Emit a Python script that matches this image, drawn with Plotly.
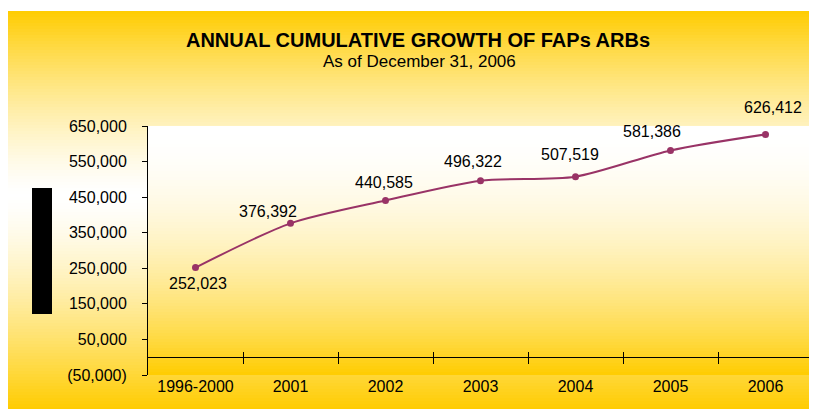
import plotly.graph_objects as go

# data
years = ['1996-2000', '2001', '2002', '2003', '2004', '2005', '2006']
arbs = [252023, 376392, 440585, 496322, 507519, 581386, 626412]
y_ticks = [-50000, 50000, 150000, 250000, 350000, 450000, 550000, 650000]

# the page body has an 8px margin, so the figure is laid out 8px up/left
OFF = 8
W, H = 817 - OFF, 409 - OFF
# plot area on screen: x 148..813, y 126..375
L, R, T, B = 148 - OFF, 817 - 813, 126 - OFF, 409 - 375
PW, PH = W - L - R, H - T - B
FONT = 'Liberation Sans, Arial, sans-serif'
YELLOW = (255, 204, 0)


def px_x(px):
    # screen pixel -> paper fraction
    return (px - OFF - L) / PW


def px_y(py):
    return (H - B - (py - OFF)) / PH


def mix(f):
    c = [round(255 + (y - 255) * f) for y in YELLOW]
    return 'rgb(%d,%d,%d)' % tuple(c)


def fmt(v):
    return '({:,})'.format(-v) if v < 0 else '{:,}'.format(v)


shapes = []
# outer background: yellow top & bottom, white band in the middle
top, bot, mid = 11, 409, 196
step = 3
for y0 in range(top, bot, step):
    yc = y0 + step / 2
    t = abs(yc - mid) / (mid - top if yc < mid else bot - mid)
    shapes.append(dict(type='rect', xref='paper', yref='paper', layer='below',
                       x0=px_x(7), x1=px_x(817), y0=px_y(y0), y1=px_y(min(y0 + step, bot)),
                       fillcolor=mix(min(t, 1) ** 1.4), line_width=0))
# plot area: white at top to yellow at bottom
for y0 in range(0, PH, step):
    t = (y0 + step / 2) / PH
    shapes.append(dict(type='rect', xref='paper', yref='paper', layer='below',
                       x0=0, x1=1, y0=1 - y0 / PH, y1=max(1 - (y0 + step) / PH, 0),
                       fillcolor=mix(min(t, 1) ** 1.9), line_width=0))
# black block where the axis title sits
shapes.append(dict(type='rect', xref='paper', yref='paper', layer='above',
                   x0=px_x(32), x1=px_x(52), y0=px_y(314), y1=px_y(188),
                   fillcolor='black', line_width=0))

n = len(years)
xs = list(range(n))

fig = go.Figure()
fig.add_trace(go.Scatter(
    x=xs, y=arbs, mode='lines+markers',
    line=dict(color='#993366', width=2, shape='spline', smoothing=0.75),
    marker=dict(color='#993366', size=7),
    text=years, hovertemplate='%{text}: %{y:,}<extra></extra>', showlegend=False))
# dummy traces so the tick-only axes on the zero line get drawn
fig.add_trace(go.Scatter(x=[], y=[], xaxis='x2', showlegend=False))
fig.add_trace(go.Scatter(x=[], y=[], xaxis='x3', showlegend=False))

# data labels, nudged like the original
shifts = [(2, -16), (-23, 12), (-2, 18), (-8, 19), (-6, 22), (-19, 19), (7, 27)]
annotations = []
for (dx, dy), x, v in zip(shifts, xs, arbs):
    annotations.append(dict(x=x, y=v, text='{:,}'.format(v), showarrow=False,
                            xshift=dx, yshift=dy, font=dict(family=FONT, size=16, color='black')))
annotations.append(dict(xref='paper', yref='paper', x=px_x(419), y=px_y(62),
                        text='As of December 31, 2006', showarrow=False,
                        xanchor='center', yanchor='middle',
                        font=dict(family=FONT, size=17, color='black')))

y_rng = [y_ticks[0], y_ticks[-1]]
x_rng = [-0.5, n - 0.5]
zero_pos = (0 - y_rng[0]) / (y_rng[1] - y_rng[0])
tick_axis = dict(range=x_rng, tickvals=[i + 0.5 for i in range(n)], type='linear',
                 showticklabels=False, showgrid=False, zeroline=False, showline=False,
                 tickcolor='black', tickwidth=1, overlaying='x', anchor='free',
                 position=zero_pos, fixedrange=True)

fig.update_layout(
    width=W, height=H, autosize=False,
    margin=dict(l=L, r=R, t=T, b=B, pad=0),
    paper_bgcolor='white', plot_bgcolor='rgba(0,0,0,0)',
    title=dict(text='<b>ANNUAL CUMULATIVE GROWTH OF FAPs ARBs</b>',
               xref='container', yref='container',
               x=(418 - OFF) / W, y=1 - (40 - OFF) / H,
               xanchor='center', yanchor='middle',
               font=dict(family=FONT, size=20, color='black')),
    xaxis=dict(range=x_rng, tickvals=xs, ticktext=years, showline=False, showgrid=False,
               zeroline=False, ticks='', tickfont=dict(family=FONT, size=16, color='black')),
    xaxis2=dict(tick_axis, ticks='outside', ticklen=6),
    xaxis3=dict(tick_axis, ticks='inside', ticklen=5),
    yaxis=dict(range=y_rng, tickvals=y_ticks, ticktext=[fmt(v) for v in y_ticks],
               showline=True, linecolor='black', linewidth=1, ticks='outside', ticklen=5,
               tickcolor='black', showgrid=False, zeroline=True, zerolinecolor='black',
               zerolinewidth=1, ticklabelstandoff=12,
               tickfont=dict(family=FONT, size=16, color='black')),
    shapes=shapes, annotations=annotations,
)

fig.write_html("out.html")
